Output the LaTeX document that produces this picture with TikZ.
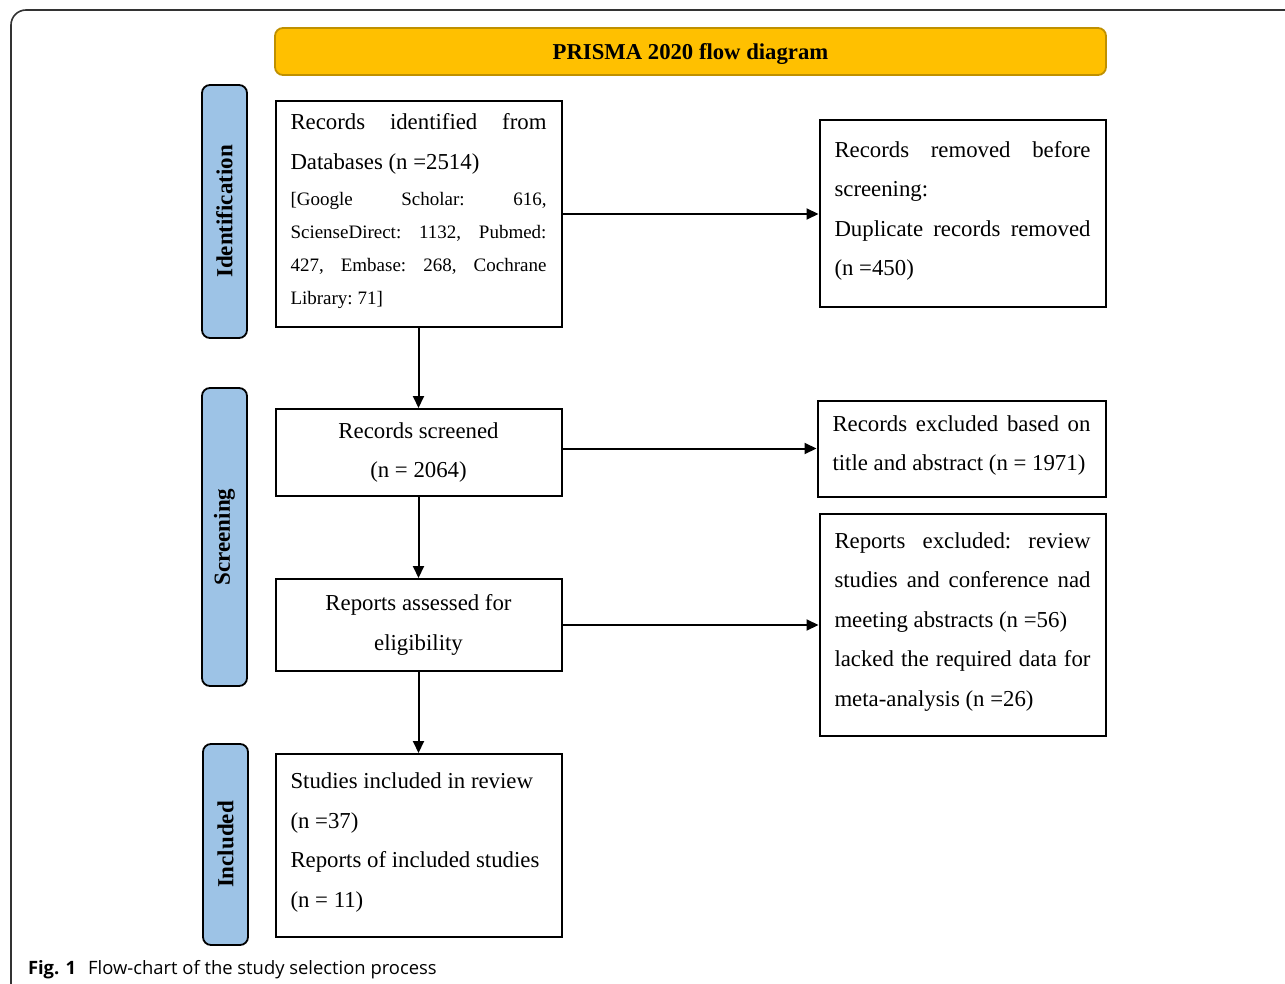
\documentclass[tikz,border=0pt]{standalone}
\usepackage{fontspec}
\setmainfont{Liberation Serif}
\newfontfamily\capfont{Open Sans}
\usetikzlibrary{arrows.meta,positioning}
\definecolor{prismagold}{HTML}{FFC000}
\definecolor{prismaedge}{HTML}{BF9000}
\definecolor{phaseblue}{HTML}{9DC3E6}
\newcommand{\mainsz}{\fontsize{11.4}{19.75}\selectfont}
\newcommand{\smallsz}{\fontsize{9.5}{16.5}\selectfont}
\newcommand{\plainsp}{\spaceskip=0pt\xspaceskip=0pt\frenchspacing}
\newcommand{\liftend}{\endgraf\vspace{3pt}}
\newcommand{\jline}[1]{\makebox[\hsize][s]{#1}}
\tikzstyle{box} = [rectangle, draw, line width=1pt, text width=128pt,
    inner xsep=7.5pt, inner ysep=0pt, font=\mainsz,
    execute at begin node=\plainsp]
\tikzstyle{lift} = [execute at end node=\liftend]
\tikzstyle{phase} = [rectangle, draw, line width=0.9pt, fill=phaseblue,
    rounded corners=4pt, rotate=90, minimum height=22.5pt, inner sep=0pt,
    font=\fontsize{11.5}{14}\selectfont\bfseries]
\tikzstyle{head} = [rectangle, draw=prismaedge, line width=0.9pt, fill=prismagold,
    rounded corners=4pt, minimum width=415.5pt, minimum height=23.5pt,
    text height=8.5pt, text depth=0pt,
    font=\fontsize{11.35}{14}\selectfont\bfseries]

\begin{document}
\begin{tikzpicture}[x=0.5pt,y=-0.5pt,>={Triangle[length=6pt,width=5.5pt]},
                    line width=1pt]
  \useasboundingbox (0,0) rectangle (1285,984);
  \draw[line width=0.8pt, black!80, rounded corners=7.5pt] (11,984) -- (11,10) -- (1285,10);

  \node[head] (title) at (690.5,51.5) {PRISMA 2020 flow diagram};

  \node[phase, minimum width=126.5pt] (ident) at (224.5,211.5) {Identification};
  \node[phase, minimum width=149pt] (screen) at (224.5,537) {Screening};
  \node[phase, minimum width=100.5pt] (incl) at (225.5,844.5) {Included};

  \node[box, lift, minimum height=113pt] (found) at (418.5,214) {%
    \jline{Records identified from}\\
    Databases (n =2514)\par\vspace{1.5pt}
    {\smallsz\jline{[Google Scholar: 616,}\\
    \jline{ScienseDirect: 1132, Pubmed:}\\
    \jline{427, Embase: 268, Cochrane}\\
    Library: 71]\par}};
  \node[box, lift, minimum height=93.5pt] (dupl) [right=128pt of found] {%
    \jline{Records removed before}\\
    screening:\\
    \jline{Duplicate records removed}\\
    (n =450)};
  \node[box, minimum height=43.5pt] (scrn) [below=40pt of found] {%
    \centering Records screened\\ (n = 2064)\par};
  \node[box, lift, minimum height=48pt, text width=129pt] (excl) [right=127pt of scrn, yshift=2pt] {%
    \jline{Records excluded based on}\\
    title and abstract (n = 1971)};
  \node[box, minimum height=46pt] (assess) [below=40.5pt of scrn] {%
    \centering Reports assessed for\\ eligibility\par};
  \node[box, lift, minimum height=111pt] (rejct) [right=128pt of assess] {%
    \jline{Reports excluded: review}\\
    \jline{studies and conference nad}\\
    meeting abstracts (n =56)\\
    \jline{lacked the required data for}\\
    meta-analysis (n =26)};
  \node[box, lift, minimum height=91.5pt] (incd) [below=40.5pt of assess] {%
    Studies included in review\\
    (n =37)\\
    Reports of included studies\\
    (n = 11)};

  \path[->] (found) edge (dupl)
        (found) edge (scrn)
        (scrn.east |- excl) edge (excl)
        (scrn) edge (assess)
        (assess) edge (rejct)
        (assess) edge (incd);

  \node[anchor=base west, inner sep=0pt, font=\capfont\fontsize{9.2}{12}\selectfont]
    (caption) at (27,974) {\textbf{Fig. 1}\hspace{6pt}Flow-chart of the study selection process};
\end{tikzpicture}
\end{document}
